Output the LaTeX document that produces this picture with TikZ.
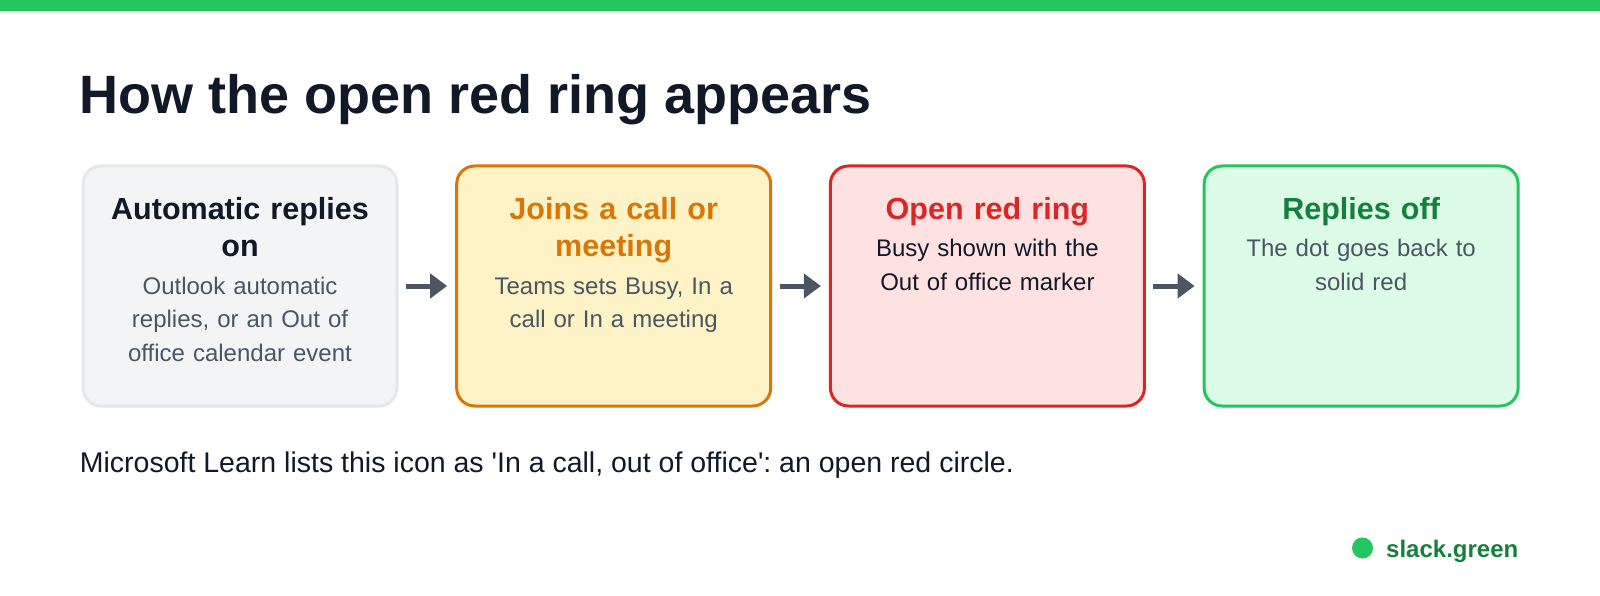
\documentclass[tikz,border=0pt]{standalone}
\usepackage{fontspec}
\setmainfont{Liberation Sans}
\usetikzlibrary{arrows.meta, positioning}

\definecolor{brandgreen}{HTML}{22C55E}
\definecolor{darkgreen}{HTML}{15803D}
\definecolor{ink}{HTML}{111827}
\definecolor{slate}{HTML}{4B5563}
\definecolor{grayfill}{HTML}{F3F4F6}
\definecolor{grayline}{HTML}{E5E7EB}
\definecolor{amberfill}{HTML}{FEF3C7}
\definecolor{amber}{HTML}{D97706}
\definecolor{redfill}{HTML}{FEE2E2}
\definecolor{alertred}{HTML}{DC2626}
\definecolor{greenfill}{HTML}{DCFCE7}

\newcommand{\titlesize}{\fontsize{54}{64}\selectfont}
\newcommand{\headsize}{\fontsize{30.5}{37.5}\selectfont}
\newcommand{\bodysize}{\fontsize{24}{33.5}\selectfont}
\newcommand{\notesize}{\fontsize{28.5}{34}\selectfont}
\newcommand{\brandsize}{\fontsize{24}{28}\selectfont}
\frenchspacing

\begin{document}
\begin{tikzpicture}[
    x=1pt, y=-1pt,
    stage/.style={rectangle, rounded corners=18pt, line width=3pt, minimum width=314pt, minimum height=240pt, inner sep=0pt},
    head/.style={anchor=base, text width=300pt, align=center, inner sep=0pt, font=\headsize\bfseries},
    desc/.style={anchor=base, text width=300pt, align=center, inner sep=0pt, font=\bodysize},
    flow/.style={-{Triangle[length=17pt, width=24pt]}, line width=5pt, draw=slate, shorten <=7.5pt, shorten >=8pt}
]
\useasboundingbox (0,0) rectangle (1600,596);
\fill[brandgreen] (0,0) rectangle (1600,11);

\node[anchor=base west, inner sep=0pt, font=\titlesize\bfseries, text=ink] (title) at (79.5,114) {How the open red ring appears};

% the four stages
\node[stage, fill=grayfill, draw=grayline] (auto) at (240,286) {};
\node[stage, fill=amberfill, draw=amber, right=56.7pt of auto] (call) {};
\node[stage, fill=redfill, draw=alertred, right=56.7pt of call] (ring) {};
\node[stage, fill=greenfill, draw=brandgreen, right=56.7pt of ring] (off) {};

\node[head, text=ink] (autoHead) at ([yshift=-54.5pt]auto.north) {Automatic replies\\on};
\node[desc, text=slate] (autoText) at ([yshift=-129.5pt]auto.north) {Outlook automatic\\replies, or an Out of\\office calendar event};

\node[head, text=amber] (callHead) at ([yshift=-54.5pt]call.north) {Joins a call or\\meeting};
\node[desc, text=slate] (callText) at ([yshift=-129.5pt]call.north) {Teams sets Busy, In a\\call or In a meeting};

\node[head, text=alertred] (ringHead) at ([yshift=-54.5pt]ring.north) {Open red ring};
\node[desc, text=ink] (ringText) at ([yshift=-92pt]ring.north) {Busy shown with the\\Out of office marker};

\node[head, text=darkgreen] (offHead) at ([yshift=-54.5pt]off.north) {Replies off};
\node[desc, text=slate] (offText) at ([yshift=-92pt]off.north) {The dot goes back to\\solid red};

\draw[flow] (auto.east) -- (call.west);
\draw[flow] (call.east) -- (ring.west);
\draw[flow] (ring.east) -- (off.west);

\node[anchor=base west, inner sep=0pt, font=\notesize, text=ink] (note) at (79.7,472) {Microsoft Learn lists this icon as \textquotesingle In a call, out of office\textquotesingle: an open red circle.};

\node[circle, fill=brandgreen, minimum size=21pt, inner sep=0pt] (dot) at (1362.5,548) {};
\node[anchor=base west, inner sep=0pt, font=\brandsize\bfseries, text=darkgreen] (brand) at (1386,557) {slack.green};
\end{tikzpicture}
\end{document}
